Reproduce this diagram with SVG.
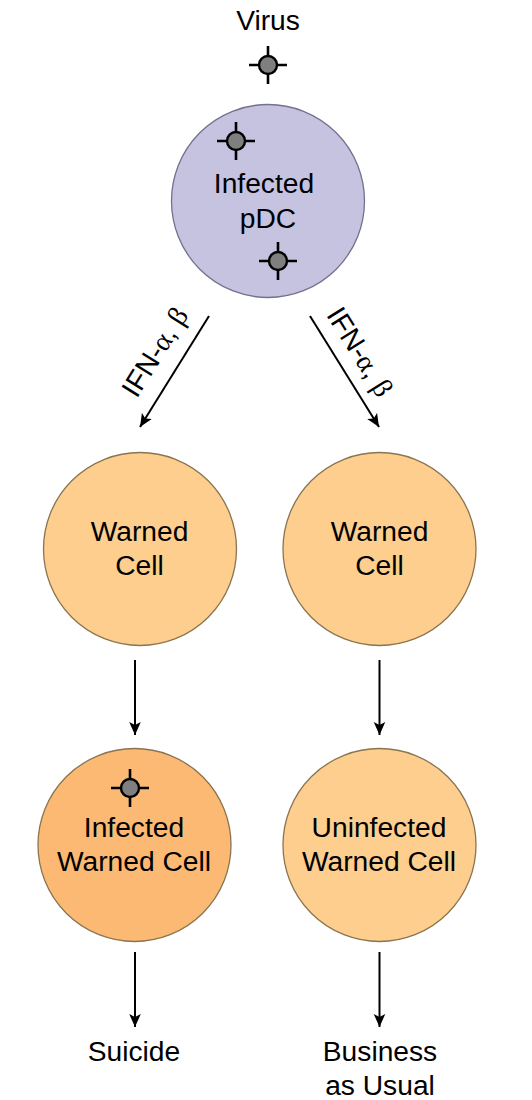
<svg xmlns="http://www.w3.org/2000/svg" width="532" height="1100" viewBox="0 0 532 1100">
<style>
text{font-family:"Liberation Sans",Arial,sans-serif;font-size:28.2px;fill:#000;text-anchor:middle}
.g{font-family:"Liberation Serif","DejaVu Serif",serif;font-size:28px}
.c{stroke:#8a7550;stroke-width:1.3}
.w{fill:#fdce8e}
.cn line{stroke:#000;stroke-width:2;marker-end:url(#a)}
.v line{stroke:#000;stroke-width:2.6}
.v circle{fill:#7f7f7f;stroke:#000;stroke-width:2.4}
</style>
<defs>
<marker id="a" markerUnits="userSpaceOnUse" markerWidth="16" markerHeight="14" refX="13" refY="7" orient="auto"><path d="M0 1.2L13 7L0 12.8L3 7Z" fill="#000"/></marker>
<g id="vir" class="v"><line x1="-19" x2="19" y1="0" y2="0"/><line x1="0" x2="0" y1="-19" y2="19"/><circle r="9"/></g>
</defs>
<g id="virus"><text x="268" y="30">Virus</text><use href="#vir" x="268" y="65"/></g>
<g id="pdc"><circle class="c" cx="268" cy="201" r="96.5" fill="#c5c3e0" style="stroke:#74708f"/><use href="#vir" x="236" y="141"/><use href="#vir" x="278" y="261"/><text x="264" y="193">Infected</text><text x="268" y="228">pDC</text></g>
<g id="w1"><circle class="c w" cx="140" cy="549" r="96.5"/><text x="139.500" y="541">Warned</text><text x="139.500" y="575">Cell</text></g>
<g id="w2"><circle class="c w" cx="379.500" cy="549" r="96.500"/><text x="379.500" y="541">Warned</text><text x="379.500" y="575">Cell</text></g>
<g id="iw"><circle class="c" cx="134.500" cy="845" r="96.500" fill="#fbb973"/><use href="#vir" x="130" y="788"/><text x="134" y="837">Infected</text><text x="134" y="871">Warned Cell</text></g>
<g id="uw"><circle class="c w" cx="379.500" cy="845" r="96.500"/><text x="379" y="837">Uninfected</text><text x="379" y="871">Warned Cell</text></g>
<g id="s"><text x="134" y="1061">Suicide</text></g>
<g id="b"><text x="380" y="1061">Business</text><text x="380" y="1095">as Usual</text></g>
<g id="connectors" class="cn">
<line x1="209" y1="316" x2="140" y2="427"/><line x1="310" y1="316" x2="379" y2="427"/>
<line x1="135" y1="660" x2="135" y2="735"/><line x1="379.500" y1="660" x2="379.500" y2="735"/>
<line x1="135" y1="952" x2="135" y2="1027"/><line x1="379.500" y1="952" x2="379.500" y2="1027"/>
</g>
<text transform="translate(163 357) rotate(-58)">IFN-<tspan class="g">α</tspan>, <tspan class="g">β</tspan></text>
<text transform="translate(352 357) rotate(58)">IFN-<tspan class="g">α</tspan>, <tspan class="g">β</tspan></text>
</svg>
